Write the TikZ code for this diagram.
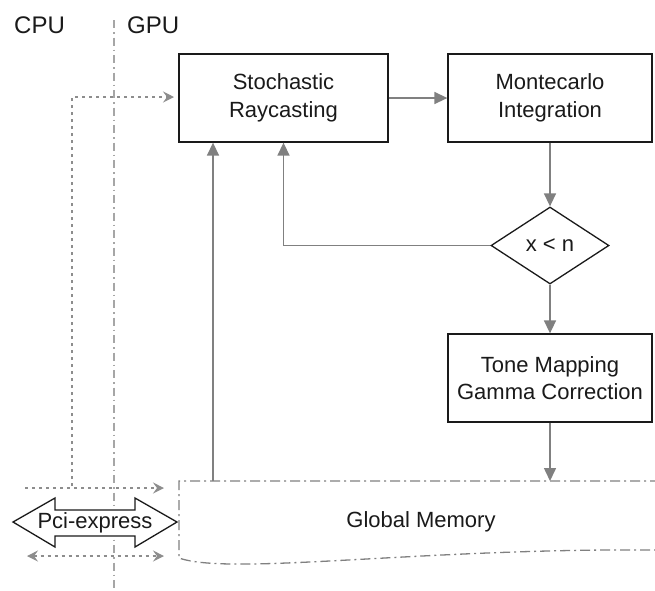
\documentclass[tikz,border=0pt]{standalone}
\usepackage{fontspec}
\setmainfont{Liberation Sans}
\usetikzlibrary{arrows.meta,shapes.geometric}
\definecolor{lg}{HTML}{808080}
\definecolor{ink}{HTML}{1A1A1A}
\tikzset{dtip/.tip={Stealth[length=11pt,width=11pt,inset=4pt]}}
\begin{document}
\begin{tikzpicture}[x=1pt,y=-1pt,
  txt/.style={font=\fontsize{22}{27.5}\selectfont, text=ink, align=center, inner sep=0pt},
  box/.style={txt, draw=ink, line width=1.3pt, fill=white, minimum width=204pt, minimum height=88pt},
  arr/.style={draw=lg, line width=1.5pt, -{Triangle[length=13pt,width=12pt]}},
  dots/.style={draw=lg!90, line width=1.2pt, dash pattern=on 3pt off 4pt},
]
\useasboundingbox (0,0) rectangle (655,590);
\clip (0,0) rectangle (655,590);

% CPU / GPU divider
\coordinate (dtop) at (114,20);
\coordinate (dbot) at (114,588);
\draw[draw=lg!70, line width=1.2pt, dash pattern=on 8pt off 4pt on 1.5pt off 4pt] (dtop) -- (dbot);
\node[txt, font=\fontsize{24}{28}\selectfont, anchor=base west] (cpu) at (14,33) {CPU};
\node[txt, font=\fontsize{24}{28}\selectfont, anchor=base west] (gpu) at (127,33) {GPU};

% Global memory
\draw[draw=lg, line width=1.3pt, dash pattern=on 10pt off 4pt on 2pt off 4pt, fill=white]
  (700,481) -- (179,481) -- (179,558) .. controls (230,576) and (420,548) .. (655,550) -- (700,550);
\node[txt] (gm) at (421,522) {Global Memory};
\coordinate (gmA) at (213,481);
\coordinate (gmB) at (550,481);

% boxes
\node[box, minimum width=209pt] (sr) at (283.5,98) {Stochastic\\Raycasting};
\node[box] (mc) at (550,98) {Montecarlo\\Integration};
\node[box] (tm) at (550,378) {Tone Mapping\\Gamma Correction};
\node[txt, diamond, draw=ink, line width=1.3pt, fill=white, minimum width=118pt, minimum height=77pt, shape aspect=1.53] (dec) at (550,245.5) {x < n};

% connectors
\draw[arr] (sr.east) -- (mc.west);
\draw[arr] (mc.south) -- (dec.north);
\draw[arr] (dec.west) -| (sr.south);
\draw[arr] (dec.south) -- (tm.north);
\draw[arr] (tm.south) -- (gmB);
\draw[arr] (gmA) -- (gmA |- sr.south);

% dotted CPU-GPU transfers
\coordinate (p1) at (25,488);
\coordinate (p2) at (164,488);
\coordinate (p3) at (72,486);
\coordinate (p4) at (72,97);
\coordinate (p5) at (174,97);
\draw[dots, -{dtip}] (p1) -- (p2);
\draw[dots, -{dtip}] (p3) -- (p4) -- (p5);
\coordinate (q1) at (27,556);
\coordinate (q2) at (164,556);
\draw[dots, {dtip}-{dtip}] (q1) -- (q2);

% Pci-express double arrow
\draw[draw=ink, line width=1.3pt, fill=white]
  (13,522) -- (55,498) -- (55,510) -- (135,510) -- (135,498) -- (177,522)
  -- (135,547) -- (135,536) -- (55,536) -- (55,547) -- cycle;
\node[txt] (pci) at (95,523) {Pci-express};
\end{tikzpicture}
\end{document}
